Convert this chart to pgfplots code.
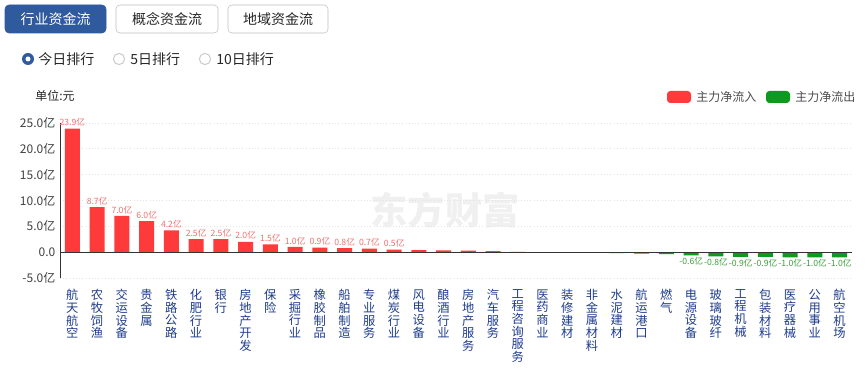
\documentclass[border=0pt]{standalone}
\usepackage{fontspec}
\setmainfont{Noto Sans CJK SC}
\usepackage{pgfplots}
\pgfplotsset{compat=1.18}
\definecolor{redbar}{HTML}{FF3A3A}
\definecolor{greenbar}{HTML}{0E9A1E}
\definecolor{redlab}{HTML}{F07070}
\definecolor{greenlab}{HTML}{3C9E3C}
\definecolor{navy}{HTML}{1E3C8C}
\definecolor{btnblue}{HTML}{2F5A9E}
\definecolor{gridc}{HTML}{E2E2E2}
\begin{document}
\begin{tikzpicture}
\begin{scope}[x=0.75pt,y=-0.75pt]
\useasboundingbox (0,0) rectangle (865,364);
% watermark
\node[text=black!6,font=\fontsize{28pt}{30pt}\selectfont\bfseries] at (445,210) {东方财富};
% buttons
\draw[rounded corners=3pt,fill=btnblue,draw=btnblue] (5,5) rectangle (106,33);
\node[text=white,font=\fontsize{10.5pt}{12pt}\selectfont] at (55.5,19) {行业资金流};
\draw[rounded corners=3pt,draw=black!25,fill=white] (116,5) rectangle (218,33);
\node[text=black!85,font=\fontsize{10.5pt}{12pt}\selectfont] at (167,19) {概念资金流};
\draw[rounded corners=3pt,draw=black!25,fill=white] (228,5) rectangle (328,33);
\node[text=black!85,font=\fontsize{10.5pt}{12pt}\selectfont] at (278,19) {地域资金流};
% radios
\fill[btnblue] (28,59) circle (6);
\fill[white] (28,59) circle (2.5);
\node[anchor=west,text=black!85,font=\fontsize{10.5pt}{12pt}\selectfont,inner sep=0] at (38,59) {今日排行};
\draw[black!20,line width=0.8pt] (119,59) circle (5.6);
\node[anchor=west,text=black!85,font=\fontsize{10.5pt}{12pt}\selectfont,inner sep=0] at (130,59) {5日排行};
\draw[black!20,line width=0.8pt] (205,59) circle (5.6);
\node[anchor=west,text=black!85,font=\fontsize{10.5pt}{12pt}\selectfont,inner sep=0] at (216,59) {10日排行};
% unit
\node[anchor=west,text=black!85,font=\fontsize{9pt}{10pt}\selectfont,inner sep=0] at (35,96) {单位:元};
% legend
\fill[redbar,rounded corners=2.5pt] (667,91) rectangle (691,103);
\node[anchor=west,text=black!70,font=\fontsize{9pt}{10pt}\selectfont,inner sep=0] at (696,97) {主力净流入};
\fill[greenbar,rounded corners=2.5pt] (766,91) rectangle (790,103);
\node[anchor=west,text=black!70,font=\fontsize{9pt}{10pt}\selectfont,inner sep=0] at (795,97) {主力净流出};
\end{scope}
\begin{axis}[
  at={(45pt,-208.5pt)}, anchor=south west,
  scale only axis, width=594pt, height=116.25pt,
  xmin=-0.5, xmax=31.5, ymin=-5, ymax=25,
  axis line style={draw=none},
  ytick={-5,0,5,10,15,20,25},
  yticklabels={-5.0亿,0.0,5.0亿,10.0亿,15.0亿,20.0亿,25.0亿},
  yticklabel style={font=\fontsize{9pt}{10pt}\selectfont,text=black!75},
  ymajorgrids, grid style={gridc,dotted,line width=0.6pt},
  major tick length=0pt,
  xtick={0,...,31},
  xticklabels={航\\天\\航\\空,农\\牧\\饲\\渔,交\\运\\设\\备,贵\\金\\属,铁\\路\\公\\路,化\\肥\\行\\业,银\\行,房\\地\\产\\开\\发,保\\险,采\\掘\\行\\业,橡\\胶\\制\\品,船\\舶\\制\\造,专\\业\\服\\务,煤\\炭\\行\\业,风\\电\\设\\备,酿\\酒\\行\\业,房\\地\\产\\服\\务,汽\\车\\服\\务,工\\程\\咨\\询\\服\\务,医\\药\\商\\业,装\\修\\建\\材,非\\金\\属\\材\\料,水\\泥\\建\\材,航\\运\\港\\口,燃\\气,电\\源\\设\\备,玻\\璃\\玻\\纤,工\\程\\机\\械,包\\装\\材\\料,医\\疗\\器\\械,公\\用\\事\\业,航\\空\\机\\场},
  xticklabel style={align=center,anchor=north,text=navy,font=\fontsize{9.2pt}{9.5pt}\selectfont,yshift=-5pt},
  ybar, bar width=11.25pt, bar shift=0pt,
  clip=false,
]
\addplot[fill=redbar,draw=none,
  nodes near coords={\pgfmathprintnumber[fixed,precision=1,fixed zerofill,assume math mode=true]{\pgfplotspointmeta}亿},
  every node near coord/.append style={font=\fontsize{6.5pt}{7pt}\selectfont,text=redlab,inner sep=1.5pt}]
coordinates {(0,23.9)(1,8.7)(2,7.0)(3,6.0)(4,4.2)(5,2.5)(6,2.5)(7,2.0)(8,1.5)(9,1.0)(10,0.9)(11,0.8)(12,0.7)(13,0.5)};
\addplot[fill=redbar,draw=none]
coordinates {(14,0.4)(15,0.35)(16,0.3)(17,0.2)(18,0.06)(19,0.02)};
\addplot[fill=greenbar,draw=none]
coordinates {(20,-0.04)(21,-0.1)(22,-0.2)(23,-0.3)(24,-0.4)};
\addplot[fill=greenbar,draw=none,
  nodes near coords={\pgfmathprintnumber[fixed,precision=1,fixed zerofill,assume math mode=true]{\pgfplotspointmeta}亿},
  every node near coord/.append style={font=\fontsize{6.5pt}{7pt}\selectfont,text=greenlab,inner sep=1.5pt}]
coordinates {(25,-0.6)(26,-0.8)(27,-0.9)(28,-0.9)(29,-1.0)(30,-1.0)(31,-1.0)};
\draw[black!80,line width=0.7pt] (axis cs:-0.5,0) -- (axis cs:31.5,0);
\draw[black!80,line width=0.7pt] (axis cs:-0.5,-5) -- (axis cs:-0.5,25);
\end{axis}
\end{tikzpicture}
\end{document}
